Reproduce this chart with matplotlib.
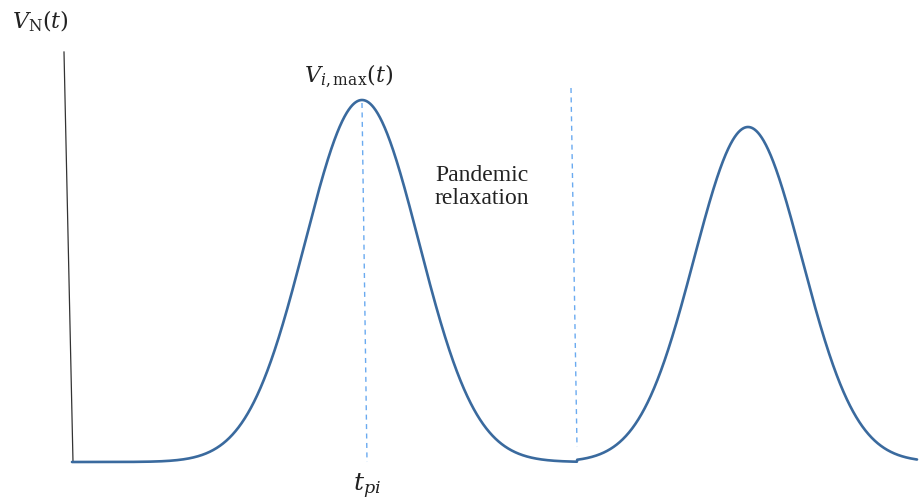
import numpy as np
import matplotlib
matplotlib.use("Agg")
import matplotlib.pyplot as plt

plt.rcParams['mathtext.fontset'] = 'dejavuserif'

# Schematic data (arbitrary units: t ~ time, V ~ cases)
t_start, t_end = 72, 917          # curve extent
t_relax = 577                     # start of pandemic relaxation
peak_t = [362, 748]               # peak times t_pi
peak_V = [362, 335]               # peak heights V_i,max
peak_w = [57, 54]                 # peak widths
axis_top = 410                    # height of drawn V axis

fig = plt.figure(figsize=(9.2, 5.01), dpi=100)
ax = fig.add_axes([0, 0, 1, 1])
ax.set_xlim(0, 920)
ax.set_ylim(-39, 462)
ax.axis('off')

t = np.linspace(t_start, t_end, 3000)
g1 = peak_V[0] * np.exp(-(t - peak_t[0])**2 / (2 * peak_w[0]**2))
g2 = peak_V[1] * np.exp(-(t - peak_t[1])**2 / (2 * peak_w[1]**2))
V = np.where(t < t_relax, g1, g2)
ax.plot(t, V, color='#3a6a9e', lw=1.9, solid_capstyle='round', zorder=3)

# vertical axis
ax.plot([64, t_start + 1], [axis_top, 0], color='#333333', lw=0.9)

# dashed markers
dash_kw = dict(color='#6aaaf0', lw=1.0, dashes=(3.6, 3.2))
ax.plot([peak_t[0], peak_t[0] + 5], [peak_V[0] - 3, 0], **dash_kw)
ax.plot([t_relax - 6, t_relax], [peak_V[0] + 12, 15], **dash_kw)

# labels
ax.text(40, 462 - 28, r'$V_{\mathrm{N}}(t)$', fontsize=16, ha='center',
        va='baseline', color='#222222')
ax.text(peak_t[0] - 13, 462 - 82, r'$V_{i,\mathrm{max}}(t)$', fontsize=16,
        ha='center', va='baseline', color='#222222')
ax.text(peak_t[0] + 5, 462 - 491, r'$t_{pi}$', fontsize=18, ha='center',
        va='baseline', color='#222222')
ax.text(435, 462 - 204, 'Pandemic\nrelaxation', fontsize=17,
        family='Liberation Serif', ha='left', va='baseline',
        linespacing=1.15, color='#222222')

fig.savefig('out.png', dpi=100)
